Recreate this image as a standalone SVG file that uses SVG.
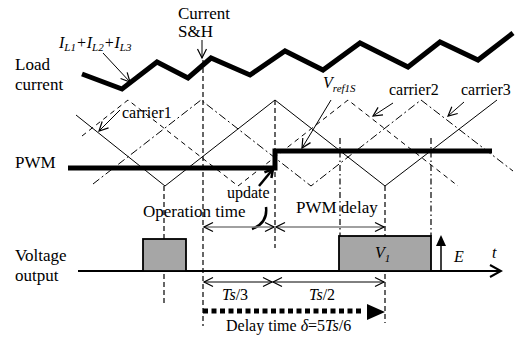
<svg xmlns="http://www.w3.org/2000/svg" width="520" height="338" viewBox="0 0 520 338" font-family="'Liberation Serif', 'Times New Roman', 'DejaVu Serif', serif">
<style>
text{font-family:'Liberation Serif','Times New Roman','DejaVu Serif',serif;font-size:16px;fill:#000}
.it{font-style:italic}
.thin{fill:none;stroke:#000;stroke-width:1}
.c2{fill:none;stroke:#000;stroke-width:1;stroke-dasharray:5,4}
.c3{fill:none;stroke:#000;stroke-width:1;stroke-dasharray:8,3,2,3}
.vd{fill:none;stroke:#000;stroke-width:1.2;stroke-dasharray:5,3}
.vdd{fill:none;stroke:#000;stroke-width:1.2;stroke-dasharray:6,3,1.5,3}
.ga{fill:none;stroke:#808080;stroke-width:1.6}
.pulse{fill:#a6a6a6;stroke:#000;stroke-width:1.8}
</style>
<defs>
<marker id="op" markerUnits="userSpaceOnUse" markerWidth="12" markerHeight="12" refX="10" refY="6" orient="auto-start-reverse" viewBox="0 0 12 12">
<path d="M1,1.5 L10,6 L1,10.5" fill="none" stroke="#000" stroke-width="1.2"/>
</marker>
<marker id="opg" markerUnits="userSpaceOnUse" markerWidth="12" markerHeight="12" refX="10" refY="6" orient="auto-start-reverse" viewBox="0 0 12 12">
<path d="M1,1.5 L10,6 L1,10.5" fill="none" stroke="#000" stroke-width="1.3"/>
</marker>
<marker id="opb" markerUnits="userSpaceOnUse" markerWidth="14" markerHeight="14" refX="12" refY="7" orient="auto" viewBox="0 0 14 14">
<path d="M1,1 L12,7 L1,13" fill="none" stroke="#000" stroke-width="2"/>
</marker>
<marker id="upd" markerUnits="userSpaceOnUse" markerWidth="12" markerHeight="12" refX="10" refY="6" orient="auto" viewBox="0 0 12 12">
<path d="M2,1.5 L10,6 L2,10.5" fill="none" stroke="#000" stroke-width="2.5"/>
</marker>
</defs>

<g id="labels">
<text x="15" y="70" style="font-size:17px">Load</text>
<text x="15" y="90" style="font-size:17px">current</text>
<text x="15" y="168" style="font-size:17px">PWM</text>
<text x="15" y="261" style="font-size:17px">Voltage</text>
<text x="15" y="281" style="font-size:17px">output</text>
</g>

<g id="load-current">
<polyline points="82,74 122,89 157,62 188,78 211,58 250,75 285,51 323,70 360,43 408,67 440,42 478,60 513,33" fill="none" stroke="#000" stroke-width="5" stroke-linejoin="miter"/>
<text x="59" y="48" class="it">I<tspan dy="3" style="font-size:11px">L1</tspan><tspan dy="-3">+I</tspan><tspan dy="3" style="font-size:11px">L2</tspan><tspan dy="-3">+I</tspan><tspan dy="3" style="font-size:11px">L3</tspan></text>
</g>

<g id="sh-label">
<text x="178" y="19" style="font-size:17px">Current</text>
<text x="178" y="37" style="font-size:17px">S&amp;H</text>
</g>

<g id="carrier1">
<polyline class="thin" points="76,115 165,186 275,100 385,186 497,100"/>
<text x="122" y="118">carrier1</text>
</g>
<g id="carrier2">
<polyline class="c2" points="82,136 128,100 238,186 348,100 458,186"/>
<text x="389" y="95">carrier2</text>
</g>
<g id="carrier3">
<polyline class="c3" points="93,184 201,100 311,186 421,100 513,171"/>
<text x="461" y="95">carrier3</text>
</g>

<g id="vref">
<text x="323" y="88" class="it">V<tspan dy="4" style="font-size:11px">ref1S</tspan></text>
</g>

<g id="pwm">
<polyline points="68,168 275,168 275,151 492,151" fill="none" stroke="#000" stroke-width="5"/>
</g>

<g id="guides">
<line class="vd" x1="203" y1="60" x2="203" y2="326"/>
<line class="vd" x1="164" y1="186" x2="164" y2="303"/>
<line class="vd" x1="275" y1="100" x2="275" y2="248"/>
<line class="vd" x1="385" y1="186" x2="385" y2="323"/>
<line class="vdd" x1="340" y1="138" x2="340" y2="236"/>
<line class="vdd" x1="431" y1="138" x2="431" y2="236"/>
</g>

<g id="update">
<text x="227" y="198">update</text>
<path d="M252,229 Q268,223 266,207" fill="none" stroke="#000" stroke-width="2.5"/>
<line x1="259" y1="186" x2="273" y2="169" stroke="#000" stroke-width="2.5" marker-end="url(#upd)"/>
</g>

<g id="op-time">
<text x="143" y="217" style="font-size:17px">Operation time</text>
</g>
<g id="pwm-delay">
<text x="296" y="213" style="font-size:17px">PWM delay</text>
</g>

<g id="voltage-output">
<line x1="78" y1="271" x2="501" y2="271" stroke="#000" stroke-width="2" marker-end="url(#opb)"/>
<rect class="pulse" x="143" y="239" width="43" height="32"/>
<rect class="pulse" x="339" y="236" width="92" height="35"/>
<text x="375" y="258" class="it">V<tspan dy="4" style="font-size:11px">1</tspan></text>
<line x1="441" y1="271" x2="441" y2="245" stroke="#000" stroke-width="1.5"/>
<polygon points="436,246 441,235 446,246" fill="#000"/>
<text x="454" y="262" class="it">E</text>
<text x="492" y="258" class="it">t</text>
</g>

<g id="timing">
<text x="222" y="300"><tspan class="it">Ts</tspan>/3</text>
<text x="309" y="300"><tspan class="it">Ts</tspan>/2</text>
<line x1="203" y1="311" x2="364" y2="311" stroke="#000" stroke-width="5" stroke-dasharray="5,3.5"/>
<polygon points="367,304 385,312 367,320" fill="#000"/>
<text x="226" y="331">Delay time <tspan class="it">δ</tspan>=5<tspan class="it">Ts</tspan>/6</text>
</g>

<g id="connectors">
<line x1="103" y1="53" x2="130" y2="82" class="thin" marker-end="url(#op)"/>
<line x1="202" y1="40" x2="202" y2="58" class="thin" marker-end="url(#op)"/>
<line x1="120" y1="110" x2="99" y2="131" class="thin" marker-end="url(#op)"/>
<line x1="393" y1="103" x2="373" y2="116" class="thin" marker-end="url(#op)"/>
<line x1="464" y1="102" x2="448" y2="116" class="thin" marker-end="url(#op)"/>
<line x1="331" y1="100" x2="302" y2="148" class="thin" marker-end="url(#op)"/>
<line x1="204" y1="227" x2="274" y2="227" class="ga" marker-start="url(#opg)" marker-end="url(#opg)"/>
<line x1="276" y1="227" x2="384" y2="227" class="ga" marker-start="url(#opg)" marker-end="url(#opg)"/>
<line x1="204" y1="282" x2="272" y2="282" class="thin" marker-start="url(#op)" marker-end="url(#op)"/>
<line x1="273" y1="282" x2="384" y2="282" class="thin" marker-start="url(#op)" marker-end="url(#op)"/>
</g>
</svg>
